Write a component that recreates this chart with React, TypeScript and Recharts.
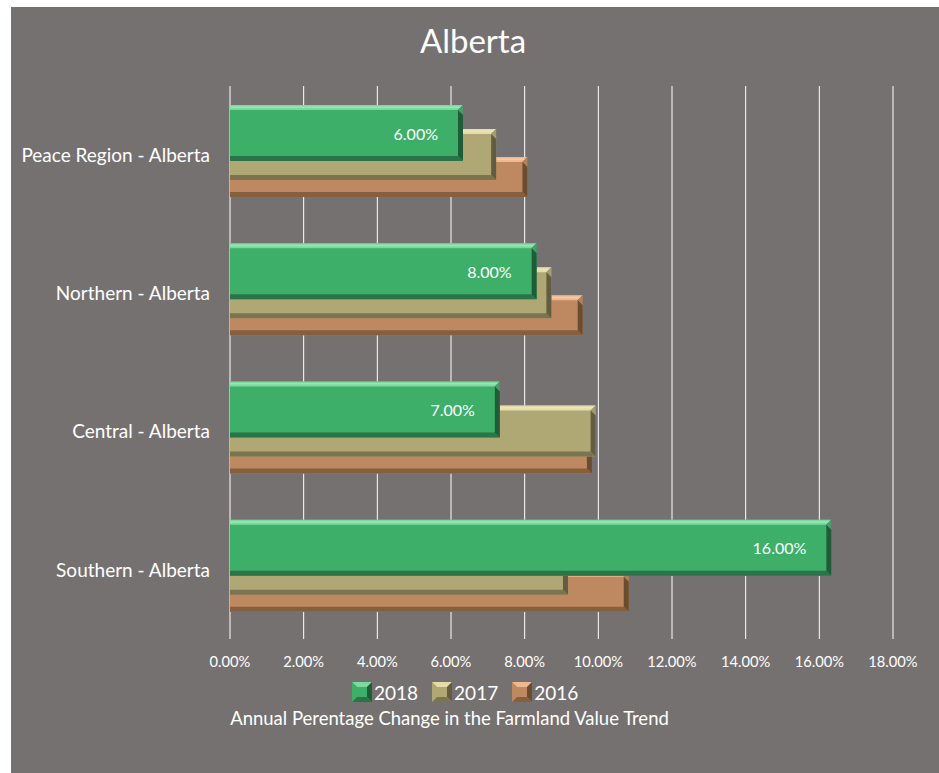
import { BarChart, Bar, XAxis, YAxis, CartesianGrid, Legend, LabelList } from 'recharts';

const categories = ['Peace Region - Alberta', 'Northern - Alberta', 'Central - Alberta', 'Southern - Alberta'];
const values2018 = [6, 8, 7, 16];
const values2017 = [6.9, 8.4, 9.6, 8.85];
const values2016 = [7.75, 9.25, 9.5, 10.5];
const xTicks = [0, 2, 4, 6, 8, 10, 12, 14, 16, 18];

const data = categories.map((name, i) => ({
  name,
  v2018: values2018[i],
  v2017: values2017[i],
  v2016: values2016[i],
}));

const FONT = 'Lato, "Open Sans", sans-serif';
const BG = '#767171';
const DEPTH = 12; // 3d depth of the bar end

type SeriesStyle = { face: string; light: string; dark: string; cap: string; top: number; bottom: number };

const styles: Record<string, SeriesStyle> = {
  v2018: { face: '#3DAF68', light: '#7BDB9E', dark: '#2A7447', cap: '#215C38', top: -50, bottom: 6 },
  v2017: { face: '#B0A874', light: '#E4DDAA', dark: '#7A7450', cap: '#625D3F', top: -26, bottom: 25 },
  v2016: { face: '#BE8860', light: '#EFB88F', dark: '#84603F', cap: '#6A4C31', top: 2, bottom: 42 },
};

const legendItems = [
  { key: 'v2018', label: '2018' },
  { key: 'v2017', label: '2017' },
  { key: 'v2016', label: '2016' },
];

function BevelBar(props: any) {
  const { x, y, width, height, s } = props;
  if (width == null || width <= 0) return null;
  const cy = y + height / 2;
  const top = cy + s.top;
  const h = s.bottom - s.top;
  const w = width + DEPTH;
  const b = 5;
  return (
    <g>
      <rect x={x} y={top} width={w} height={h} fill={s.face} />
      <polygon points={`${x},${top} ${x + w},${top} ${x + w - b},${top + b} ${x},${top + b}`} fill={s.light} />
      <rect x={x} y={top + 1.5} width={w - 2} height={1.5} fill="#ffffff" opacity={0.25} />
      <polygon points={`${x},${top + h - b} ${x + w - b},${top + h - b} ${x + w},${top + h} ${x},${top + h}`} fill={s.dark} />
      <polygon points={`${x + w - b},${top + b} ${x + w},${top} ${x + w},${top + h} ${x + w - b},${top + h - b}`} fill={s.cap} />
      <polygon points={`${x + w - b},${top + b} ${x + w},${top} ${x + w},${top + b * 2}`} fill={s.light} opacity={0.5} />
    </g>
  );
}

function ValueLabel(props: any) {
  const { x, y, width, height, value } = props;
  const s = styles.v2018;
  const cy = y + height / 2 + (s.top + s.bottom) / 2;
  return (
    <text x={x + width + DEPTH - 25} y={cy} fill="#ffffff" fontSize={16} fontFamily={FONT} textAnchor="end" dominantBaseline="central">
      {Number(value).toFixed(2) + '%'}
    </text>
  );
}

function LegendIcon({ s }: { s: SeriesStyle }) {
  const n = 20;
  const b = 5;
  return (
    <svg width={n} height={n} style={{ display: 'block' }}>
      <rect x={0} y={0} width={n} height={n} fill={s.face} />
      <polygon points={`0,0 ${n},0 ${n - b},${b} ${b},${b}`} fill={s.light} />
      <polygon points={`0,0 ${b},${b} ${b},${n - b} 0,${n}`} fill={s.face} />
      <polygon points={`${n},0 ${n},${n} ${n - b},${n - b} ${n - b},${b}`} fill={s.cap} />
      <polygon points={`0,${n} ${b},${n - b} ${n - b},${n - b} ${n},${n}`} fill={s.dark} />
    </svg>
  );
}

function renderLegend() {
  return (
    <div style={{ display: 'flex', alignItems: 'center', height: 24 }}>
      {legendItems.map((it) => (
        <div key={it.key} style={{ display: 'flex', alignItems: 'center', marginRight: 14 }}>
          <LegendIcon s={styles[it.key]} />
          <span style={{ color: '#ffffff', fontSize: 19, fontFamily: FONT, marginLeft: 2 }}>{it.label}</span>
        </div>
      ))}
    </div>
  );
}

function AxisTitle(props: any) {
  const { viewBox } = props;
  return (
    <text x={viewBox.x + 219.5} y={viewBox.y + 86} fill="#ffffff" fontSize={18.5} fontFamily={FONT} textAnchor="middle">
      Annual Perentage Change in the Farmland Value Trend
    </text>
  );
}

export default function App() {
  return (
    <div style={{ position: 'absolute', left: 0, top: 0, width: 939, height: 773, background: '#ffffff', fontFamily: FONT }}>
      <div style={{ position: 'absolute', left: 11, top: 7, width: 928, height: 766, background: BG }}>
        <div style={{ position: 'absolute', left: 0, top: 13, width: 924, textAlign: 'center', color: '#ffffff', fontSize: 33, fontFamily: FONT }}>
          Alberta
        </div>
        <BarChart
          width={928}
          height={766}
          data={data}
          layout="vertical"
          margin={{ top: 79, right: 46, bottom: 80, left: 0 }}
          barSize={56}
          barGap={-56}
        >
          <CartesianGrid horizontal={false} stroke="#ffffff" strokeWidth={1} />
          <XAxis
            type="number"
            domain={[0, 18]}
            ticks={xTicks}
            tickFormatter={(v: number) => v.toFixed(2) + '%'}
            axisLine={false}
            tickLine={false}
            tickSize={0}
            tickMargin={18}
            height={30}
            tick={{ fill: '#ffffff', fontSize: 14.7, fontFamily: FONT }}
            interval={0}
            label={<AxisTitle />}
          />
          <YAxis
            type="category"
            dataKey="name"
            width={219}
            axisLine={false}
            tickLine={false}
            tickSize={0}
            tickMargin={20}
            tick={{ fill: '#ffffff', fontSize: 19, fontFamily: FONT }}
          />
          <Legend
            verticalAlign="bottom"
            content={renderLegend}
            wrapperStyle={{ left: 341, top: 673, width: 'auto', bottom: 'auto' }}
          />
          <Bar dataKey="v2016" isAnimationActive={false} shape={(p: any) => <BevelBar {...p} s={styles.v2016} />} />
          <Bar dataKey="v2017" isAnimationActive={false} shape={(p: any) => <BevelBar {...p} s={styles.v2017} />} />
          <Bar dataKey="v2018" isAnimationActive={false} shape={(p: any) => <BevelBar {...p} s={styles.v2018} />}>
            <LabelList dataKey="v2018" content={<ValueLabel />} />
          </Bar>
        </BarChart>
      </div>
    </div>
  );
}
